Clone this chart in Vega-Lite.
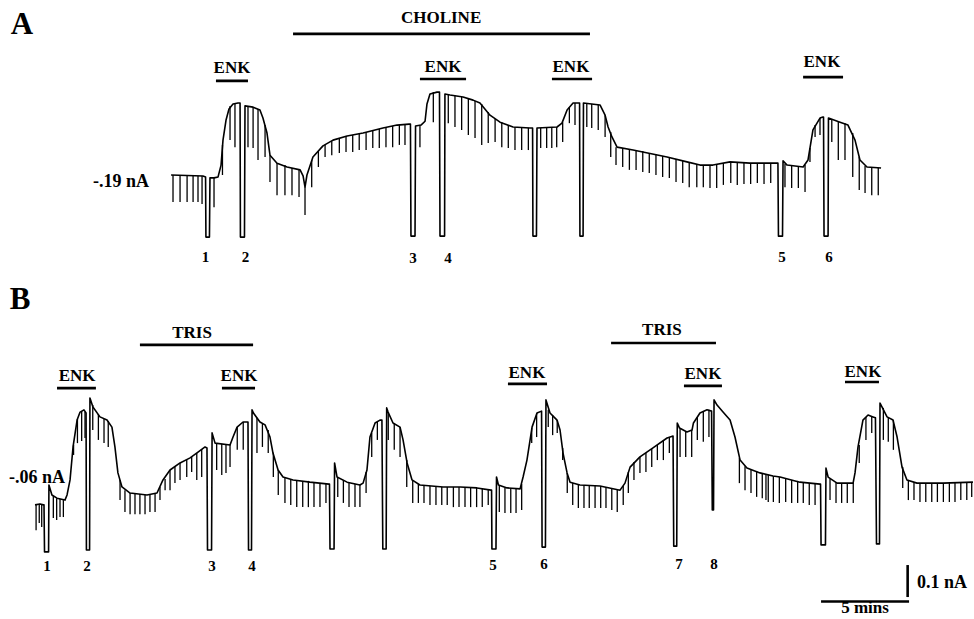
{
  "$schema": "https://vega.github.io/schema/vega-lite/v6.json",
  "padding": 0,
  "spacing": 0,
  "background": "white",
  "config": {"view": {"stroke": null}, "text": {"font": "Liberation Serif", "fontWeight": "bold", "color": "black", "baseline": "middle", "align": "center"}},
  "resolve": {"scale": {"y": "independent", "x": "independent"}},
  "datasets": {
    "traceA": [
      {"t":9.72,"I":-190},{"t":11.53,"I":-193},{"t":11.68,"I":-196},{"t":11.70,"I":-384},{"t":11.90,"I":-384},{"t":11.93,"I":-199},
      {"t":12.16,"I":-199},{"t":12.39,"I":-196},{"t":12.56,"I":-159},{"t":12.67,"I":-81},{"t":12.84,"I":-19},{"t":13.01,"I":16},
      {"t":13.24,"I":32},{"t":13.52,"I":35},{"t":13.64,"I":35},{"t":13.66,"I":-384},{"t":13.89,"I":-384},{"t":13.92,"I":26},
      {"t":14.38,"I":22},{"t":14.77,"I":13},{"t":14.94,"I":-12},{"t":15.17,"I":-59},{"t":15.34,"I":-128},{"t":15.74,"I":-153},
      {"t":16.31,"I":-165},{"t":17.05,"I":-174},{"t":17.22,"I":-193},{"t":17.33,"I":-228},{"t":17.44,"I":-190},{"t":17.78,"I":-134},
      {"t":18.35,"I":-99},{"t":18.92,"I":-81},{"t":19.72,"I":-68},{"t":20.63,"I":-59},{"t":21.76,"I":-43},{"t":22.56,"I":-34},
      {"t":23.24,"I":-31},{"t":23.32,"I":-31},{"t":23.35,"I":-381},{"t":23.58,"I":-381},{"t":23.61,"I":-37},{"t":23.92,"I":-34},
      {"t":24.15,"I":-22},{"t":24.26,"I":32},{"t":24.43,"I":63},{"t":24.83,"I":69},{"t":24.97,"I":69},{"t":25.00,"I":-381},
      {"t":25.26,"I":-381},{"t":25.28,"I":63},{"t":25.57,"I":60},{"t":26.31,"I":54},{"t":26.88,"I":44},{"t":27.27,"I":35},
      {"t":27.84,"I":-3},{"t":28.41,"I":-25},{"t":29.15,"I":-40},{"t":30.11,"I":-43},{"t":30.26,"I":-43},{"t":30.28,"I":-381},
      {"t":30.48,"I":-381},{"t":30.51,"I":-43},{"t":31.65,"I":-40},{"t":31.93,"I":-28},{"t":32.22,"I":13},{"t":32.56,"I":35},
      {"t":32.90,"I":35},{"t":32.93,"I":35},{"t":32.95,"I":-381},{"t":33.13,"I":-381},{"t":33.15,"I":35},{"t":34.09,"I":29},
      {"t":34.38,"I":-3},{"t":34.55,"I":-40},{"t":34.77,"I":-71},{"t":35.06,"I":-103},{"t":35.97,"I":-112},{"t":37.90,"I":-134},
      {"t":39.03,"I":-149},{"t":39.77,"I":-159},{"t":40.51,"I":-159},{"t":41.48,"I":-149},{"t":42.61,"I":-153},{"t":44.15,"I":-153},
      {"t":44.20,"I":-153},{"t":44.23,"I":-381},{"t":44.46,"I":-381},{"t":44.49,"I":-146},{"t":44.72,"I":-159},{"t":45.63,"I":-165},
      {"t":45.91,"I":-143},{"t":46.19,"I":-49},{"t":46.59,"I":-12},{"t":46.76,"I":-9},{"t":46.79,"I":-9},{"t":46.82,"I":-381},
      {"t":47.05,"I":-381},{"t":47.07,"I":-12},{"t":47.73,"I":-25},{"t":48.18,"I":-34},{"t":48.58,"I":-81},{"t":48.86,"I":-143},
      {"t":49.26,"I":-165},{"t":50.06,"I":-168}
    ],
    "spikesA": [
      {"t":9.83,"I":-190,"I2":-274},{"t":10.23,"I":-190,"I2":-274},{"t":10.63,"I":-190,"I2":-274},{"t":10.97,"I":-190,"I2":-274},
      {"t":11.25,"I":-193,"I2":-274},{"t":11.48,"I":-193,"I2":-281},{"t":12.16,"I":-199,"I2":-291},{"t":12.64,"I":-96,"I2":-190},
      {"t":13.07,"I":26,"I2":-81},{"t":13.35,"I":35,"I2":-103},{"t":14.09,"I":26,"I2":-103},{"t":14.38,"I":22,"I2":-106},
      {"t":14.66,"I":16,"I2":-143},{"t":15.06,"I":-34,"I2":-134},{"t":15.34,"I":-128,"I2":-212},{"t":15.74,"I":-153,"I2":-253},
      {"t":16.19,"I":-159,"I2":-253},{"t":16.59,"I":-168,"I2":-253},{"t":16.99,"I":-171,"I2":-259},{"t":17.33,"I":-228,"I2":-315},
      {"t":17.71,"I":-143,"I2":-228},{"t":18.09,"I":-115,"I2":-165},{"t":18.47,"I":-96,"I2":-134},{"t":18.85,"I":-84,"I2":-128},
      {"t":19.28,"I":-74,"I2":-121},{"t":19.66,"I":-68,"I2":-118},{"t":20.04,"I":-65,"I2":-118},{"t":20.41,"I":-62,"I2":-112},
      {"t":20.80,"I":-56,"I2":-112},{"t":21.18,"I":-52,"I2":-106},{"t":21.55,"I":-46,"I2":-106},{"t":21.93,"I":-40,"I2":-103},
      {"t":22.31,"I":-37,"I2":-103},{"t":22.69,"I":-34,"I2":-96},{"t":23.01,"I":-31,"I2":-96},{"t":23.86,"I":-34,"I2":-103},
      {"t":24.62,"I":69,"I2":-25},{"t":25.47,"I":60,"I2":-28},{"t":25.85,"I":57,"I2":-40},{"t":26.23,"I":54,"I2":-49},
      {"t":26.61,"I":51,"I2":-65},{"t":26.99,"I":41,"I2":-74},{"t":27.37,"I":32,"I2":-96},{"t":27.74,"I":7,"I2":-90},
      {"t":28.13,"I":-15,"I2":-87},{"t":28.51,"I":-25,"I2":-103},{"t":28.88,"I":-34,"I2":-106},{"t":29.26,"I":-40,"I2":-112},
      {"t":29.64,"I":-43,"I2":-112},{"t":30.02,"I":-43,"I2":-112},{"t":30.72,"I":-43,"I2":-106},{"t":31.06,"I":-43,"I2":-106},
      {"t":31.35,"I":-40,"I2":-106},{"t":31.63,"I":-40,"I2":-103},{"t":31.97,"I":-25,"I2":-87},{"t":32.35,"I":22,"I2":-28},
      {"t":32.67,"I":35,"I2":-34},{"t":33.34,"I":32,"I2":-40},{"t":33.62,"I":32,"I2":-43},{"t":33.99,"I":29,"I2":-49},
      {"t":34.38,"I":-3,"I2":-71},{"t":34.70,"I":-56,"I2":-134},{"t":35.00,"I":-103,"I2":-159},{"t":35.38,"I":-106,"I2":-165},
      {"t":35.76,"I":-109,"I2":-174},{"t":36.14,"I":-112,"I2":-174},{"t":36.52,"I":-115,"I2":-181},{"t":36.89,"I":-121,"I2":-184},
      {"t":37.27,"I":-124,"I2":-190},{"t":37.65,"I":-131,"I2":-196},{"t":38.03,"I":-134,"I2":-199},{"t":38.41,"I":-140,"I2":-212},
      {"t":38.79,"I":-146,"I2":-215},{"t":39.16,"I":-149,"I2":-228},{"t":39.59,"I":-156,"I2":-228},{"t":39.96,"I":-159,"I2":-228},
      {"t":40.34,"I":-159,"I2":-231},{"t":40.72,"I":-159,"I2":-231},{"t":41.10,"I":-153,"I2":-221},{"t":41.52,"I":-149,"I2":-215},
      {"t":41.89,"I":-149,"I2":-221},{"t":42.27,"I":-149,"I2":-218},{"t":42.65,"I":-153,"I2":-218},{"t":43.03,"I":-153,"I2":-215},
      {"t":43.41,"I":-153,"I2":-218},{"t":43.79,"I":-153,"I2":-215},{"t":44.60,"I":-156,"I2":-228},{"t":44.98,"I":-159,"I2":-231},
      {"t":45.36,"I":-162,"I2":-231},{"t":45.74,"I":-159,"I2":-243},{"t":46.02,"I":-106,"I2":-149},{"t":46.31,"I":-34,"I2":-71},
      {"t":46.59,"I":-12,"I2":-65},{"t":47.26,"I":-15,"I2":-87},{"t":47.63,"I":-22,"I2":-143},{"t":48.01,"I":-28,"I2":-143},
      {"t":48.45,"I":-59,"I2":-196},{"t":48.82,"I":-134,"I2":-237},{"t":49.15,"I":-162,"I2":-246},{"t":49.53,"I":-165,"I2":-253},
      {"t":49.90,"I":-168,"I2":-253}
    ],
    "barsA": [
      {"t":16.65,"t2":33.52,"I":251},
      {"t":12.27,"t2":14.09,"I":104},
      {"t":23.86,"t2":26.48,"I":110},
      {"t":31.36,"t2":33.64,"I":110},
      {"t":45.63,"t2":47.90,"I":116}
    ],
    "textA": [
      {"t":1.25,"I":279,"label":"A","kind":"panel"},
      {"t":25.06,"I":301,"label":"CHOLINE","kind":"drug"},
      {"t":13.18,"I":144,"label":"ENK","kind":"drug"},
      {"t":25.17,"I":147,"label":"ENK","kind":"drug"},
      {"t":32.44,"I":147,"label":"ENK","kind":"drug"},
      {"t":46.70,"I":163,"label":"ENK","kind":"drug"},
      {"t":11.68,"I":-446,"label":"1","kind":"event"},
      {"t":13.95,"I":-446,"label":"2","kind":"event"},
      {"t":23.47,"I":-449,"label":"3","kind":"event"},
      {"t":25.45,"I":-449,"label":"4","kind":"event"},
      {"t":44.43,"I":-446,"label":"5","kind":"event"},
      {"t":47.10,"I":-446,"label":"6","kind":"event"},
      {"t":6.88,"I":-212,"label":"-.19 nA","kind":"level"}
    ],
    "traceB": [
      {"t":1.99,"I":-144},{"t":2.27,"I":-141},{"t":2.47,"I":-144},{"t":2.50,"I":-144},{"t":2.53,"I":-291},{"t":2.76,"I":-291},
      {"t":2.78,"I":-82},{"t":2.95,"I":-113},{"t":3.24,"I":-123},{"t":3.69,"I":-129},{"t":3.81,"I":-113},{"t":3.98,"I":-66},
      {"t":4.15,"I":37},{"t":4.38,"I":121},{"t":4.55,"I":146},{"t":4.77,"I":153},{"t":4.89,"I":143},{"t":4.91,"I":-285},
      {"t":5.09,"I":-285},{"t":5.11,"I":190},{"t":5.28,"I":162},{"t":5.68,"I":131},{"t":6.08,"I":121},{"t":6.36,"I":99},
      {"t":6.53,"I":37},{"t":6.70,"I":-44},{"t":6.93,"I":-88},{"t":7.39,"I":-107},{"t":8.35,"I":-113},{"t":8.92,"I":-107},
      {"t":9.26,"I":-66},{"t":9.66,"I":-35},{"t":10.23,"I":-13},{"t":10.80,"I":3},{"t":11.25,"I":21},{"t":11.65,"I":37},
      {"t":11.76,"I":34},{"t":11.79,"I":-285},{"t":12.02,"I":-285},{"t":12.05,"I":81},{"t":12.22,"I":49},{"t":13.07,"I":43},
      {"t":13.24,"I":68},{"t":13.47,"I":99},{"t":13.81,"I":115},{"t":14.06,"I":115},{"t":14.09,"I":115},{"t":14.12,"I":-285},
      {"t":14.29,"I":-285},{"t":14.32,"I":153},{"t":14.40,"I":143},{"t":14.77,"I":115},{"t":15.06,"I":106},{"t":15.34,"I":68},
      {"t":15.51,"I":18},{"t":15.80,"I":-35},{"t":16.08,"I":-57},{"t":16.65,"I":-66},{"t":17.61,"I":-73},{"t":18.69,"I":-79},
      {"t":18.72,"I":-79},{"t":18.75,"I":-282},{"t":18.98,"I":-282},{"t":19.01,"I":-13},{"t":19.15,"I":-57},{"t":19.72,"I":-73},
      {"t":20.45,"I":-82},{"t":20.63,"I":-76},{"t":20.85,"I":-35},{"t":21.02,"I":68},{"t":21.31,"I":112},{"t":21.59,"I":121},
      {"t":21.70,"I":121},{"t":21.75,"I":-282},{"t":21.94,"I":-282},{"t":21.97,"I":159},{"t":22.05,"I":146},{"t":22.33,"I":112},
      {"t":22.73,"I":99},{"t":22.90,"I":59},{"t":23.13,"I":-13},{"t":23.41,"I":-66},{"t":23.86,"I":-82},{"t":25.17,"I":-88},
      {"t":26.14,"I":-88},{"t":27.10,"I":-91},{"t":27.90,"I":-98},{"t":27.93,"I":-98},{"t":27.95,"I":-282},{"t":28.18,"I":-282},
      {"t":28.21,"I":-57},{"t":28.32,"I":-82},{"t":28.81,"I":-91},{"t":29.55,"I":-94},{"t":29.72,"I":-57},{"t":29.94,"I":-4},
      {"t":30.23,"I":99},{"t":30.51,"I":143},{"t":30.77,"I":149},{"t":30.80,"I":-276},{"t":30.99,"I":-276},{"t":31.02,"I":184},
      {"t":31.25,"I":143},{"t":31.65,"I":121},{"t":31.82,"I":90},{"t":31.99,"I":18},{"t":32.22,"I":-44},{"t":32.39,"I":-73},
      {"t":32.95,"I":-82},{"t":34.09,"I":-85},{"t":35.23,"I":-98},{"t":35.51,"I":-76},{"t":35.80,"I":-26},{"t":36.36,"I":6},
      {"t":37.10,"I":34},{"t":37.90,"I":65},{"t":38.24,"I":71},{"t":38.28,"I":-273},{"t":38.45,"I":-273},{"t":38.48,"I":112},
      {"t":38.61,"I":96},{"t":39.03,"I":84},{"t":39.32,"I":90},{"t":39.40,"I":112},{"t":39.77,"I":143},{"t":40.17,"I":153},
      {"t":40.43,"I":149},{"t":40.47,"I":-160},{"t":40.54,"I":-160},{"t":40.57,"I":184},{"t":40.74,"I":168},{"t":41.08,"I":146},
      {"t":41.48,"I":121},{"t":41.76,"I":68},{"t":42.05,"I":-4},{"t":42.44,"I":-29},{"t":43.18,"I":-44},{"t":43.92,"I":-54},
      {"t":44.32,"I":-57},{"t":45.45,"I":-73},{"t":46.59,"I":-79},{"t":46.62,"I":-79},{"t":46.65,"I":-269},{"t":46.90,"I":-269},
      {"t":46.93,"I":-29},{"t":47.05,"I":-57},{"t":47.56,"I":-76},{"t":48.47,"I":-76},{"t":48.58,"I":-44},{"t":48.75,"I":37},
      {"t":49.03,"I":121},{"t":49.32,"I":137},{"t":49.60,"I":131},{"t":49.74,"I":128},{"t":49.80,"I":-266},{"t":49.97,"I":-266},
      {"t":50.00,"I":174},{"t":50.11,"I":162},{"t":50.40,"I":131},{"t":50.74,"I":121},{"t":50.97,"I":68},{"t":51.25,"I":-26},
      {"t":51.53,"I":-66},{"t":52.10,"I":-76},{"t":53.58,"I":-76},{"t":55.28,"I":-73}
    ],
    "spikesB": [
      {"t":2.05,"I":-144,"I2":-223},{"t":2.23,"I":-141,"I2":-201},{"t":2.37,"I":-141,"I2":-213},{"t":3.03,"I":-116,"I2":-185},
      {"t":3.22,"I":-123,"I2":-191},{"t":3.41,"I":-126,"I2":-182},{"t":3.60,"I":-129,"I2":-182},{"t":4.18,"I":43,"I2":12},
      {"t":4.40,"I":124,"I2":49},{"t":4.64,"I":149,"I2":56},{"t":4.83,"I":146,"I2":65},{"t":5.27,"I":168,"I2":90},
      {"t":5.59,"I":140,"I2":59},{"t":5.91,"I":124,"I2":49},{"t":6.15,"I":118,"I2":37},{"t":6.82,"I":-66,"I2":-129},
      {"t":7.10,"I":-98,"I2":-166},{"t":7.39,"I":-107,"I2":-173},{"t":7.67,"I":-110,"I2":-173},{"t":7.95,"I":-110,"I2":-173},
      {"t":8.24,"I":-113,"I2":-173},{"t":8.52,"I":-110,"I2":-166},{"t":8.81,"I":-107,"I2":-166},{"t":9.09,"I":-88,"I2":-129},
      {"t":9.38,"I":-63,"I2":-98},{"t":9.66,"I":-35,"I2":-98},{"t":9.94,"I":-23,"I2":-76},{"t":10.23,"I":-13,"I2":-66},
      {"t":10.61,"I":-4,"I2":-57},{"t":10.89,"I":6,"I2":-41},{"t":11.18,"I":18,"I2":-66},{"t":11.46,"I":31,"I2":-57},
      {"t":12.31,"I":49,"I2":-35},{"t":12.60,"I":46,"I2":-51},{"t":12.84,"I":43,"I2":-44},{"t":13.07,"I":43,"I2":-26},
      {"t":13.48,"I":99,"I2":28},{"t":13.82,"I":115,"I2":28},{"t":14.60,"I":128,"I2":18},{"t":14.91,"I":109,"I2":37},
      {"t":15.24,"I":90,"I2":18},{"t":15.53,"I":18,"I2":-57},{"t":15.81,"I":-35,"I2":-113},{"t":16.19,"I":-60,"I2":-138},
      {"t":16.52,"I":-66,"I2":-144},{"t":16.86,"I":-66,"I2":-151},{"t":17.20,"I":-69,"I2":-151},{"t":17.52,"I":-69,"I2":-151},
      {"t":17.84,"I":-73,"I2":-151},{"t":18.18,"I":-76,"I2":-151},{"t":18.52,"I":-79,"I2":-138},{"t":19.19,"I":-57,"I2":-119},
      {"t":19.51,"I":-66,"I2":-138},{"t":19.83,"I":-73,"I2":-151},{"t":20.17,"I":-79,"I2":-151},{"t":20.45,"I":-82,"I2":-151},
      {"t":20.80,"I":-41,"I2":-107},{"t":21.12,"I":81,"I2":6},{"t":21.44,"I":115,"I2":59},{"t":22.06,"I":146,"I2":59},
      {"t":22.40,"I":109,"I2":28},{"t":22.73,"I":99,"I2":6},{"t":23.11,"I":-4,"I2":-88},{"t":23.45,"I":-66,"I2":-138},
      {"t":23.77,"I":-79,"I2":-138},{"t":24.09,"I":-82,"I2":-138},{"t":24.43,"I":-85,"I2":-144},{"t":24.77,"I":-85,"I2":-144},
      {"t":25.10,"I":-88,"I2":-144},{"t":25.41,"I":-88,"I2":-144},{"t":25.76,"I":-88,"I2":-151},{"t":26.08,"I":-88,"I2":-151},
      {"t":26.42,"I":-88,"I2":-151},{"t":26.74,"I":-91,"I2":-151},{"t":27.08,"I":-91,"I2":-151},{"t":27.40,"I":-94,"I2":-151},
      {"t":27.74,"I":-94,"I2":-144},{"t":28.37,"I":-85,"I2":-166},{"t":28.69,"I":-91,"I2":-169},{"t":29.02,"I":-91,"I2":-169},
      {"t":29.32,"I":-94,"I2":-169},{"t":29.64,"I":-79,"I2":-160},{"t":30.21,"I":96,"I2":49},{"t":30.49,"I":143,"I2":68},
      {"t":31.15,"I":153,"I2":99},{"t":31.40,"I":137,"I2":74},{"t":31.66,"I":121,"I2":81},{"t":31.97,"I":34,"I2":-4},
      {"t":32.23,"I":-44,"I2":-107},{"t":32.54,"I":-76,"I2":-144},{"t":32.86,"I":-82,"I2":-154},{"t":33.18,"I":-82,"I2":-154},
      {"t":33.48,"I":-82,"I2":-154},{"t":33.81,"I":-85,"I2":-154},{"t":34.13,"I":-85,"I2":-154},{"t":34.43,"I":-88,"I2":-154},
      {"t":34.76,"I":-91,"I2":-160},{"t":35.07,"I":-94,"I2":-166},{"t":35.41,"I":-85,"I2":-144},{"t":35.70,"I":-41,"I2":-107},
      {"t":36.02,"I":-10,"I2":-66},{"t":36.36,"I":6,"I2":-44},{"t":36.70,"I":18,"I2":-41},{"t":37.03,"I":31,"I2":-26},
      {"t":37.35,"I":43,"I2":-4},{"t":37.69,"I":56,"I2":-4},{"t":38.03,"I":68,"I2":18},{"t":38.64,"I":93,"I2":6},
      {"t":38.96,"I":87,"I2":6},{"t":39.30,"I":90,"I2":6},{"t":39.62,"I":131,"I2":59},{"t":39.96,"I":146,"I2":53},
      {"t":40.28,"I":153,"I2":68},{"t":42.01,"I":3,"I2":-76},{"t":42.33,"I":-23,"I2":-98},{"t":42.67,"I":-32,"I2":-107},
      {"t":42.99,"I":-38,"I2":-119},{"t":43.31,"I":-44,"I2":-123},{"t":43.52,"I":-48,"I2":-129},{"t":43.65,"I":-51,"I2":-135},
      {"t":43.94,"I":-54,"I2":-135},{"t":44.28,"I":-57,"I2":-138},{"t":44.64,"I":-63,"I2":-135},{"t":44.98,"I":-66,"I2":-138},
      {"t":45.32,"I":-69,"I2":-138},{"t":45.64,"I":-73,"I2":-138},{"t":45.98,"I":-76,"I2":-144},{"t":46.31,"I":-76,"I2":-144},
      {"t":47.16,"I":-63,"I2":-129},{"t":47.50,"I":-73,"I2":-138},{"t":47.82,"I":-76,"I2":-138},{"t":48.14,"I":-76,"I2":-138},
      {"t":48.48,"I":-76,"I2":-138},{"t":48.82,"I":43,"I2":-13},{"t":49.20,"I":131,"I2":59},{"t":49.53,"I":134,"I2":81},
      {"t":50.19,"I":159,"I2":59},{"t":50.47,"I":128,"I2":53},{"t":50.76,"I":121,"I2":28},{"t":51.29,"I":-26,"I2":-91},
      {"t":51.61,"I":-66,"I2":-129},{"t":51.93,"I":-73,"I2":-129},{"t":52.27,"I":-76,"I2":-135},{"t":52.60,"I":-76,"I2":-135},
      {"t":52.94,"I":-76,"I2":-135},{"t":53.26,"I":-76,"I2":-135},{"t":53.60,"I":-76,"I2":-135},{"t":53.94,"I":-76,"I2":-135},
      {"t":54.26,"I":-76,"I2":-135},{"t":54.59,"I":-73,"I2":-129},{"t":54.93,"I":-73,"I2":-129},{"t":55.21,"I":-73,"I2":-119}
    ],
    "barsB": [
      {"t":7.95,"t2":14.38,"I":356},
      {"t":34.72,"t2":40.68,"I":362},
      {"t":3.24,"t2":5.45,"I":221},
      {"t":12.61,"t2":14.49,"I":221},
      {"t":28.86,"t2":31.08,"I":234},
      {"t":38.86,"t2":41.02,"I":228},
      {"t":48.01,"t2":49.94,"I":240},
      {"t":46.65,"t2":51.65,"I":-446}
    ],
    "scaleV": [
      {"t":51.57,"I":-332,"I2":-432}
    ],
    "textB": [
      {"t":1.14,"I":496,"label":"B","kind":"panel"},
      {"t":10.91,"I":393,"label":"TRIS","kind":"drug"},
      {"t":37.61,"I":403,"label":"TRIS","kind":"drug"},
      {"t":4.38,"I":259,"label":"ENK","kind":"drug"},
      {"t":13.58,"I":259,"label":"ENK","kind":"drug"},
      {"t":29.94,"I":268,"label":"ENK","kind":"drug"},
      {"t":39.94,"I":265,"label":"ENK","kind":"drug"},
      {"t":49.03,"I":271,"label":"ENK","kind":"drug"},
      {"t":2.67,"I":-335,"label":"1","kind":"event"},
      {"t":4.94,"I":-335,"label":"2","kind":"event"},
      {"t":12.05,"I":-335,"label":"3","kind":"event"},
      {"t":14.32,"I":-335,"label":"4","kind":"event"},
      {"t":28.01,"I":-332,"label":"5","kind":"event"},
      {"t":30.91,"I":-329,"label":"6","kind":"event"},
      {"t":38.58,"I":-329,"label":"7","kind":"event"},
      {"t":40.57,"I":-329,"label":"8","kind":"event"},
      {"t":2.10,"I":-60,"label":"-.06 nA","kind":"level"},
      {"t":49.15,"I":-466,"label":"5 mins","kind":"scale"}
    ],
    "textB2": [
      {"t":52.10,"I":-388,"label":"0.1 nA"}
    ]
  },
  "vconcat": [
    {
      "width": 974,
      "height": 280,
      "encoding": {
        "x": {"field": "t", "type": "quantitative", "scale": {"domain": [0, 55.34], "nice": false, "zero": false}, "axis": null},
        "y": {"field": "I", "type": "quantitative", "scale": {"domain": [-518.125, 356.875], "nice": false, "zero": false}, "axis": null}
      },
      "layer": [
        {"data": {"name": "traceA"}, "mark": {"type": "line", "color": "black", "strokeWidth": 1.6, "strokeJoin": "round"}},
        {"data": {"name": "spikesA"}, "mark": {"type": "rule", "color": "black", "strokeWidth": 1.3}, "encoding": {"y2": {"field": "I2"}}},
        {"data": {"name": "barsA"}, "mark": {"type": "rule", "color": "black", "strokeWidth": 2.6}, "encoding": {"x2": {"field": "t2"}}},
        {"data": {"name": "textA"}, "transform": [{"filter": "datum.kind === 'panel'"}], "mark": {"type": "text", "fontSize": 31}, "encoding": {"text": {"field": "label"}}},
        {"data": {"name": "textA"}, "transform": [{"filter": "datum.kind === 'drug'"}], "mark": {"type": "text", "fontSize": 17}, "encoding": {"text": {"field": "label"}}},
        {"data": {"name": "textA"}, "transform": [{"filter": "datum.kind === 'event'"}], "mark": {"type": "text", "fontSize": 15}, "encoding": {"text": {"field": "label"}}},
        {"data": {"name": "textA"}, "transform": [{"filter": "datum.kind === 'level'"}], "mark": {"type": "text", "fontSize": 18}, "encoding": {"text": {"field": "label"}}}
      ]
    },
    {
      "width": 974,
      "height": 339,
      "encoding": {
        "x": {"field": "t", "type": "quantitative", "scale": {"domain": [0, 55.34], "nice": false, "zero": false}, "axis": null},
        "y": {"field": "I", "type": "quantitative", "scale": {"domain": [-500.625, 558.75], "nice": false, "zero": false}, "axis": null}
      },
      "layer": [
        {"data": {"name": "traceB"}, "mark": {"type": "line", "color": "black", "strokeWidth": 1.6, "strokeJoin": "round"}},
        {"data": {"name": "spikesB"}, "mark": {"type": "rule", "color": "black", "strokeWidth": 1.3}, "encoding": {"y2": {"field": "I2"}}},
        {"data": {"name": "barsB"}, "mark": {"type": "rule", "color": "black", "strokeWidth": 2.6}, "encoding": {"x2": {"field": "t2"}}},
        {"data": {"name": "scaleV"}, "mark": {"type": "rule", "color": "black", "strokeWidth": 2.6}, "encoding": {"y2": {"field": "I2"}}},
        {"data": {"name": "textB"}, "transform": [{"filter": "datum.kind === 'panel'"}], "mark": {"type": "text", "fontSize": 31}, "encoding": {"text": {"field": "label"}}},
        {"data": {"name": "textB"}, "transform": [{"filter": "datum.kind === 'drug'"}], "mark": {"type": "text", "fontSize": 17}, "encoding": {"text": {"field": "label"}}},
        {"data": {"name": "textB"}, "transform": [{"filter": "datum.kind === 'event'"}], "mark": {"type": "text", "fontSize": 15}, "encoding": {"text": {"field": "label"}}},
        {"data": {"name": "textB"}, "transform": [{"filter": "datum.kind === 'level'"}], "mark": {"type": "text", "fontSize": 18}, "encoding": {"text": {"field": "label"}}},
        {"data": {"name": "textB"}, "transform": [{"filter": "datum.kind === 'scale'"}], "mark": {"type": "text", "fontSize": 17}, "encoding": {"text": {"field": "label"}}},
        {"data": {"name": "textB2"}, "mark": {"type": "text", "fontSize": 18, "align": "left"}, "encoding": {"text": {"field": "label"}}}
      ]
    }
  ]
}
